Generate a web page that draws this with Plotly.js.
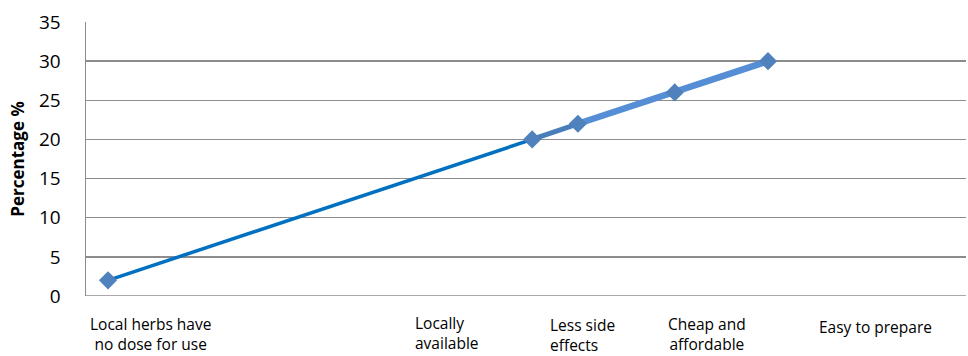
<!DOCTYPE html>
<html>
<head>
<meta charset="utf-8">
<script src="https://cdn.plot.ly/plotly-3.0.1.min.js"></script>
<style>html,body{margin:0;padding:0;background:#fff;}#chart{width:968px;height:356px;}</style>
</head>
<body>
<div id="chart"></div>
<script>
// Data
const categories = ["Local herbs have<br>no dose for use", "Locally<br>available", "Less side<br>effects", "Cheap and<br>affordable", "Easy to prepare"];
const values = [2, 20, 22, 26, 30];
const pointX = [0.025, 0.507, 0.559, 0.669, 0.775];
const labelX = [0.073, 0.41, 0.564, 0.706, 0.897];
const yTicks = [0, 5, 10, 15, 20, 25, 30, 35];

// layout-only settings for labels
const labelStyle = [
  {y: -0.058, align: "center"},
  {y: -0.054, align: "left"},
  {y: -0.062, align: "left"},
  {y: -0.058, align: "center"},
  {y: -0.068, align: "center"}
];
const segStyle = [
  {from: 0, to: 1, color: "#0070C0", width: 3.5},
  {from: 1, to: 2, color: "#4A7EBB", width: 5},
  {from: 2, to: 4, color: "#558ED5", width: 6.5}
];

const traces = segStyle.map(s => ({
  x: pointX.slice(s.from, s.to + 1),
  y: values.slice(s.from, s.to + 1),
  type: "scatter", mode: "lines",
  line: {color: s.color, width: s.width},
  hoverinfo: "skip", showlegend: false
}));
traces.push({
  x: pointX, y: values, type: "scatter", mode: "markers",
  marker: {symbol: "diamond", size: 14, color: "#4F81BD"},
  showlegend: false
});

const font = "'Open Sans', 'Liberation Sans', sans-serif";
const annotations = categories.map((c, i) => ({
  text: c, x: labelX[i], xref: "x", y: labelStyle[i].y, yref: "paper",
  xanchor: "center", yanchor: "top", align: labelStyle[i].align,
  showarrow: false, borderpad: 0, font: {family: font, size: 15.5, color: "#000"}
}));

const layout = {
  width: 968, height: 356,
  margin: {l: 86, r: 2, t: 22, b: 60},
  paper_bgcolor: "#fff", plot_bgcolor: "#fff",
  font: {family: font, color: "#000"},
  showlegend: false,
  xaxis: {range: [0, 1], showgrid: false, zeroline: false, showticklabels: false,
          showline: false, ticks: ""},
  yaxis: {range: [0, 35], tickvals: yTicks, ticktext: yTicks.map(String),
          showgrid: true, gridcolor: "#8c8c8c", gridwidth: 1.5,
          zeroline: false, showline: true, linecolor: "#8c8c8c", linewidth: 1.5,
          ticks: "", ticklabelstandoff: 20,
          tickfont: {family: font, size: 19, color: "#000"},
          title: {text: "<b>Percentage %</b>", font: {family: font, size: 17, color: "#000"}, standoff: 10}},
  annotations: annotations,
  shapes: [{type: "line", xref: "paper", yref: "y", x0: 0, x1: 1, y0: 0, y1: 0,
            line: {color: "#8c8c8c", width: 1.5}}]
};

Plotly.newPlot("chart", traces, layout, {displayModeBar: false, staticPlot: true});
</script>
</body>
</html>
